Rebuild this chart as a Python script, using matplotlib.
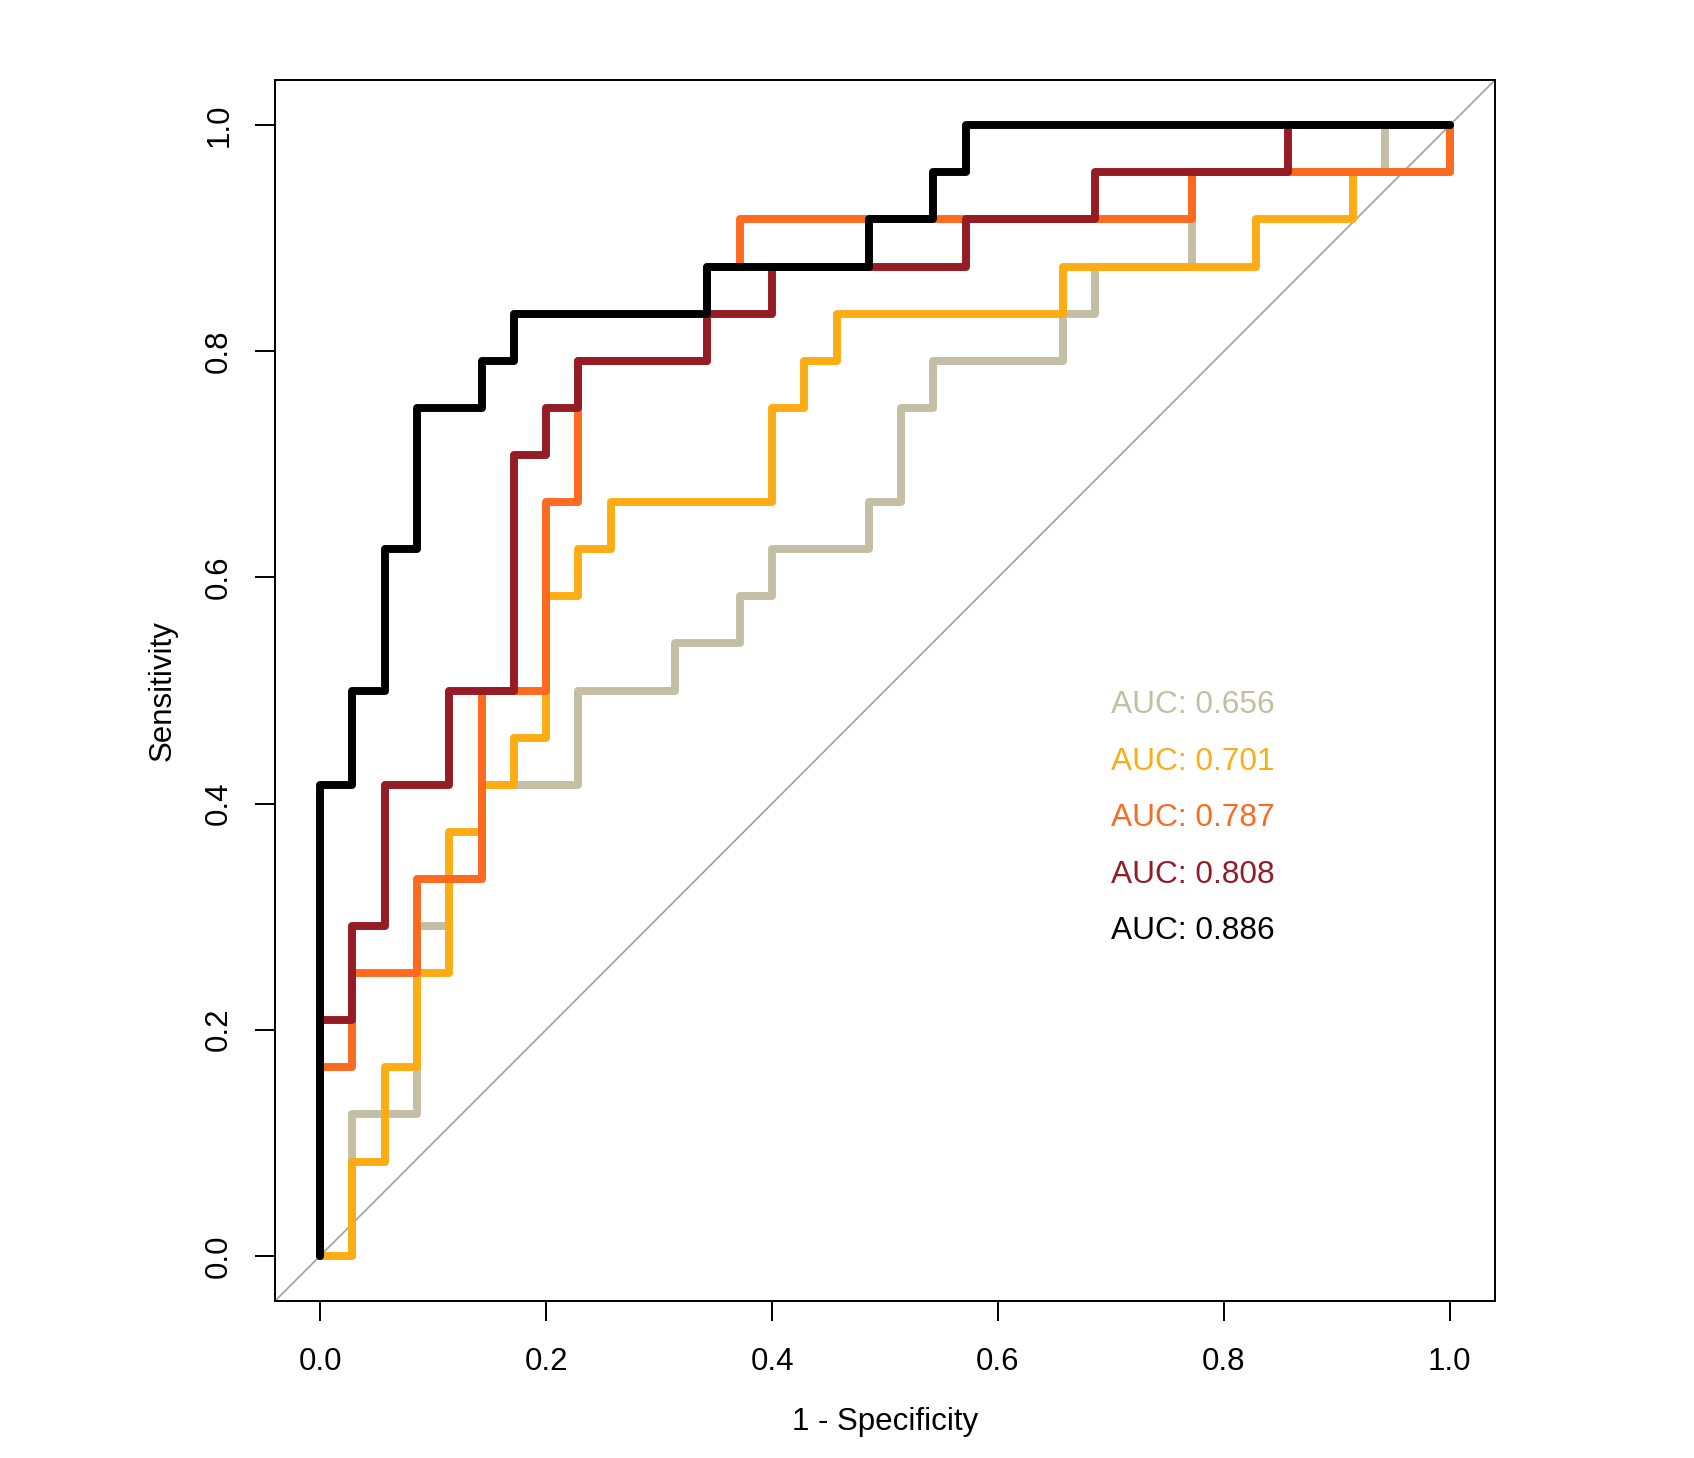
import numpy as np
import matplotlib
matplotlib.use('Agg')
import matplotlib.pyplot as plt
from matplotlib.ticker import FormatStrFormatter

plt.rcParams['font.family'] = ['Liberation Sans', 'DejaVu Sans']

# counts of negatives / positives behind the ROC steps
n_neg = 35
n_pos = 24

# ROC points as (false positive count, true positive count), one list per model
grey_fp = [0, 1, 3, 4, 5, 8, 11, 13, 14, 17, 18, 19, 23, 24, 27, 33, 35]
grey_tp = [0, 3, 7, 8, 10, 12, 13, 14, 15, 16, 18, 19, 20, 21, 23, 24, 24]

yellow_fp = [0, 1, 2, 3, 4, 5, 6, 7, 8, 9, 14, 15, 16, 23, 29, 32, 35]
yellow_tp = [0, 2, 4, 6, 9, 10, 11, 14, 15, 16, 18, 19, 20, 21, 22, 23, 24]

orange_fp = [0, 0, 1, 3, 5, 7, 8, 12, 13, 27, 35]
orange_tp = [0, 4, 6, 8, 12, 16, 19, 21, 22, 23, 24]

darkred_fp = [0, 0, 1, 2, 4, 6, 7, 8, 12, 14, 20, 24, 30, 35]
darkred_tp = [0, 5, 7, 10, 12, 17, 18, 19, 20, 21, 22, 23, 24, 24]

black_fp = [0, 0, 1, 2, 3, 5, 6, 12, 17, 19, 20, 35]
black_tp = [0, 10, 12, 15, 18, 19, 20, 21, 22, 23, 24, 24]

auc_labels = ['AUC: 0.656', 'AUC: 0.701', 'AUC: 0.787', 'AUC: 0.808', 'AUC: 0.886']
colors = ['#C4BEA4', '#FDAD13', '#FC6A1F', '#951B24', '#000000']

curves = [(grey_fp, grey_tp), (yellow_fp, yellow_tp), (orange_fp, orange_tp),
          (darkred_fp, darkred_tp), (black_fp, black_tp)]

fig = plt.figure(figsize=(16.94, 14.58), dpi=100)
ax = fig.add_axes([275/1694, 157/1458, 1220/1694, 1221/1458])

# chance line
ax.axline((0, 0), slope=1, color='#A0A0A0', lw=1.2, zorder=1)

for (fp, tp), col in zip(curves, colors):
    x = np.array(fp) / n_neg
    y = np.array(tp) / n_pos
    ax.plot(x, y, drawstyle='steps-post', color=col, lw=5.7,
            solid_capstyle='round', solid_joinstyle='round', zorder=2)

for i, (lab, col) in enumerate(zip(auc_labels, colors)):
    ax.text(0.70, 0.48 - 0.05 * i, lab, color=col, fontsize=22.8,
            ha='left', va='baseline')

ax.set_xlim(-0.04, 1.04)
ax.set_ylim(-0.04, 1.04)
ax.set_xticks(np.arange(0, 1.01, 0.2))
ax.set_yticks(np.arange(0, 1.01, 0.2))
ax.xaxis.set_major_formatter(FormatStrFormatter('%.1f'))
ax.yaxis.set_major_formatter(FormatStrFormatter('%.1f'))
ax.tick_params(length=14.4, width=1.4, labelsize=22.5, pad=15)
ax.tick_params(axis='x', pad=19)
for lbl in ax.get_yticklabels():
    lbl.set_rotation(90)
    lbl.set_va('center')
for s in ax.spines.values():
    s.set_linewidth(1.4)

ax.set_xlabel('1 - Specificity', fontsize=22.5, labelpad=21)
ax.set_ylabel('Sensitivity', fontsize=22.5, labelpad=19)

fig.savefig('out.png', dpi=100)
